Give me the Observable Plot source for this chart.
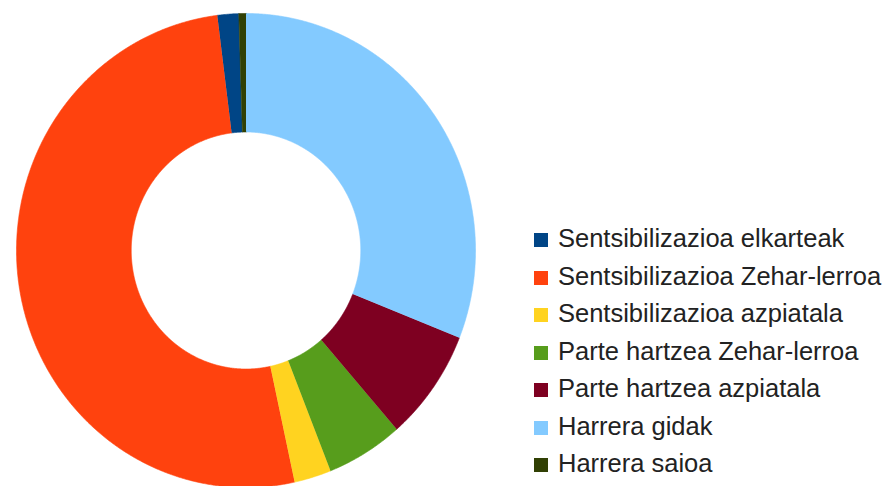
<!DOCTYPE html>
<html>
<head>
<meta charset="utf-8">
<script src="https://cdn.jsdelivr.net/npm/d3@7"></script>
<script src="https://cdn.jsdelivr.net/npm/@observablehq/plot@0.6"></script>
<style>
  html, body { margin: 0; padding: 0; background: #fff; }
  #wrap { position: relative; width: 888px; height: 486px; overflow: hidden; }
  #legend { position: absolute; left: 534px; top: 220px; font-family: "Liberation Sans", Arial, sans-serif; font-size: 25.5px; color: #222; }
  #legend .row { line-height: 37.5px; white-space: nowrap; }
  #legend .sw { display: inline-block; width: 14px; height: 14px; margin-right: 10px; vertical-align: baseline; }
</style>
</head>
<body>
<div id="wrap"></div>
<script>
// Data (percent shares)
const labels = [
  "Sentsibilizazioa elkarteak",
  "Sentsibilizazioa Zehar-lerroa",
  "Sentsibilizazioa azpiatala",
  "Parte hartzea Zehar-lerroa",
  "Parte hartzea azpiatala",
  "Harrera gidak",
  "Harrera saioa"
];
const values = [1.5, 51.4, 2.6, 5.4, 7.6, 31.0, 0.5];
const colors = ["#004586", "#ff420e", "#ffd320", "#579d1c", "#7e0021", "#83caff", "#314004"];

// Layout: counter-clockwise slices, last slice ends at 12 o'clock
const total = d3.sum(values);
const start = -2 * Math.PI * values[values.length - 1] / total;
const arcs = d3.pie().sort(null).startAngle(start).endAngle(start - 2 * Math.PI)(values);
const inner = 0.5, outer = 1;
const pts = [];
arcs.forEach((a, i) => {
  const n = Math.max(2, Math.ceil(Math.abs(a.endAngle - a.startAngle) / 0.005));
  for (let k = 0; k <= n; k++) {
    const t = a.startAngle + (a.endAngle - a.startAngle) * k / n;
    pts.push({name: labels[i], x: outer * Math.sin(t), y: outer * Math.cos(t)});
  }
  for (let k = n; k >= 0; k--) {
    const t = a.startAngle + (a.endAngle - a.startAngle) * k / n;
    pts.push({name: labels[i], x: inner * Math.sin(t), y: inner * Math.cos(t)});
  }
});

const chart = Plot.plot({
  width: 888,
  height: 486,
  margin: 0,
  style: {background: "#fff", overflow: "visible"},
  x: {domain: [-1, 1], range: [16, 475], axis: null},
  y: {domain: [-1, 1], range: [487, 13], axis: null},
  color: {type: "ordinal", domain: labels, range: colors},
  marks: [
    Plot.line(pts, {x: "x", y: "y", z: "name", fill: "name", stroke: "name", strokeWidth: 0.6, curve: "linear"})
  ]
});
const wrap = document.getElementById("wrap");
wrap.appendChild(chart);

const legend = document.createElement("div");
legend.id = "legend";
labels.forEach((l, i) => {
  const row = document.createElement("div");
  row.className = "row";
  const sw = document.createElement("span");
  sw.className = "sw";
  sw.style.background = colors[i];
  row.appendChild(sw);
  row.appendChild(document.createTextNode(l));
  legend.appendChild(row);
});
wrap.appendChild(legend);
</script>
</body>
</html>
